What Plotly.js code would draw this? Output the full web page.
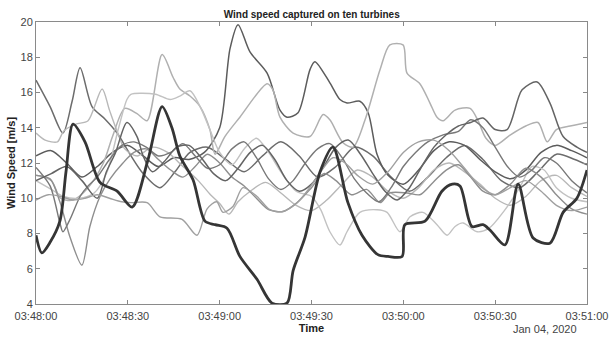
<!DOCTYPE html>
<html>
<head>
<meta charset="utf-8">
<script src="https://cdn.plot.ly/plotly-3.0.1.min.js"></script>
<style>html,body{margin:0;padding:0;background:#fff;}#chart{width:610px;height:338px;}</style>
</head>
<body>
<div id="chart"></div>
<script>
// Seconds after 2020-01-04 03:48:00 and wind speed values [m/s]
const t1 = [0,4.6,8.8,11.8,14.4,18.3,22.5,26.5,30.7,35,40.5,45.4,50.3,56,62,68,74,80,86,92,98,104,110,116,122,128,134,140,146,152,158,164,170,176,180];
const v1 = [16.7,15.2,13.7,15.5,17.4,15.2,14.5,13.7,12.5,11.4,10.6,11.5,12.6,12.9,12.2,11.5,12.4,13.2,12.4,11.2,11.8,12.9,12.4,11.2,10.4,11.2,12.3,13.0,12.2,11.0,10.6,11.5,12.5,12.2,11.9];

const t2 = [0,5,10,15,20,25,30,35,40,45,50,55,60,63.4,66,69.9,75.5,79.7,82,85.6,89.5,91.1,96,99.3,101.6,105.8,108.5,111.4,115,120,125,130,135,140,145,150,155,160,165,170,175,180];
const v2 = [12.4,12.7,12.0,11.2,11.8,12.6,13.0,12.4,11.8,12.3,12.2,12.6,14.0,18.5,19.85,18.3,17.1,15.0,14.6,14.85,17.3,17.75,16.55,15.6,15.4,15.5,14.85,12.5,11.3,10.8,11.6,12.7,13.2,13.0,12.2,11.5,11.1,11.6,12.6,13.0,12.7,12.3];

const t3 = [0,3,7,9,13,17,21.6,24,26.5,29,33,38,43,48,53,57,60,63,66,70,75,80,85,90,95,100,105,110,115,120,125,130,135,140,145,150,155,160,165,170,175,180];
const v3 = [13.7,13.3,13.2,13.8,14.2,14.4,16.2,15.0,13.8,12.8,12.4,12.9,12.6,11.8,11.0,10.2,9.7,9.1,9.8,10.4,10.9,10.3,9.6,9.3,9.9,10.8,11.6,11.2,10.4,10.0,10.6,11.6,12.0,11.5,10.8,10.0,9.6,10.1,11.0,11.3,10.6,10.1];

const t4 = [0,5,8,12,17,22,25,29,33,36.3,41.2,44.8,47,50.3,53.6,56.8,58.5,61.7,66.6,75.5,77.4,79.7,84,89.5,93.8,96,100.3,103.6,107.5,112.4,115.6,119.9,121.2,125.4,128.7,131,133,136.9,141.8,144.4,147,150,155,160,164,167,170,174.5,180];
const v4 = [11.3,11.0,10.0,9.9,10.6,12.0,13.5,15.1,14.8,14.4,18.15,16.85,16.2,15.8,15.2,13.9,12.5,13.5,14.6,16.5,16.15,14.6,13.7,13.5,14.75,14.45,13.15,12.9,14.45,17.3,18.7,18.7,17.1,16.5,15.4,14.6,14.4,15.0,15.1,14.4,13.4,13.0,13.6,14.1,14.3,13.2,13.9,14.1,14.3];

const t5 = [0,5,9,14,19,23,27,29.7,31,39,43.8,47,50.3,53.6,56.8,60,64,68,72,76,80,85,90,93,96,99.3,101.6,105.8,111.4,114.7,118.9,122.2,126.4,131,134.3,136.9,139.5,144.1,148,153,158,162,166,170,175,180];
const v5 = [11.0,10.5,10.1,10.0,10.3,11.4,14.0,15.6,15.9,15.9,15.6,15.8,16.1,15.2,13.9,12.6,11.9,12.8,13.4,12.6,11.5,10.4,10.1,9.35,8.1,7.35,8.1,9.2,9.35,9.2,8.1,8.95,9.2,8.5,7.9,8.4,8.6,8.1,8.3,9.3,10.6,11.8,11.6,10.6,10.0,9.8];

const t6 = [0,4.6,7.8,11.1,15,17.6,20.9,24.2,28.4,32,36,40,44,48,52,56,60,64,68,72,76,80.7,85.3,90,94,98,103,108,112.4,115.6,121.2,125.4,129.7,134,138,142,146,150,155,160,165,170,175,180];
const v6 = [11.3,11.1,9.8,7.8,6.2,8.4,10.1,11.1,12.0,12.6,12.8,12.2,11.6,11.2,11.8,12.5,12.0,11.2,10.7,10.0,9.35,9.25,9.75,10.6,11.4,11.0,10.2,10.5,9.75,10.3,10.3,10.2,10.9,11.6,11.9,11.2,10.4,10.2,10.8,11.7,11.2,10.2,9.4,9.1];

const t7 = [0,4.6,7.8,8.8,11.1,14.4,17,20,24,28,32,36,40,44,48,52,56,60,64,68,72,76,80,84,88,92,96,100,104,108,112,116,120,124,128,133,138,142,146,150,154,158,162,166,170,175,180];
const v7 = [11.75,10.7,8.6,8.1,8.8,10.1,10.7,11.2,12.2,13.0,13.2,12.9,12.4,12.6,13.1,12.4,11.7,11.9,12.8,13.2,12.3,11.1,10.5,11.0,12.0,12.8,13.1,12.3,11.1,10.3,9.8,10.6,11.8,12.6,13.2,13.6,13.8,14.45,14.0,12.9,11.8,11.2,11.6,12.3,12.0,11.0,10.3];

const t8 = [0,5,10,15,20,23,26,29.7,33,35,38,42,46,50,54,58,62,66,70,74,78,82,86,90,94,98,102,106,110,114,118,122,126,130,134,138,142,146,150,153.9,158.8,163.7,167.9,172.2,176.7,180];
const v8 = [11.0,11.4,11.8,11.0,10.0,11.5,12.6,14.3,13.5,12.4,11.5,12.1,12.9,13.0,12.3,11.4,11.0,11.7,12.6,13.0,12.2,11.0,10.4,10.8,11.8,12.9,13.3,12.5,11.4,10.4,9.9,10.6,11.8,12.9,13.6,14.1,14.3,14.55,13.9,13.9,16.15,16.6,15.4,13.5,12.9,12.6];

const t9 = [0,4,8,12,16,20,24,28,31,36.3,40.5,47.7,52.6,55.9,59,61.1,64.4,67.6,72.2,76.4,80.7,85.3,89,93,97,101,105,110,115,120,125,130,135,140,145,150,155,160,165,170,175,180];
const v9 = [9.9,10.2,10.1,9.9,10.0,10.2,10.0,9.8,9.75,9.75,8.95,8.8,7.9,9.4,9.8,9.2,9.55,10.6,10.1,9.35,9.25,9.75,10.5,11.5,12.3,12.0,11.3,10.8,11.5,12.6,13.2,13.3,12.7,11.7,10.7,10.2,10.6,11.0,10.4,9.6,9.3,9.5];

// highlighted turbine (thick dark line)
const t10 = [0,1.9,4.6,7.8,9.8,12.1,16,20.9,26.5,31.4,36.6,41.2,44.4,47,51.3,55.2,58.5,62.4,66.6,72.2,77.1,82,84,87.9,92.8,97,101.9,106.5,111.7,115,119.6,120.5,127.1,132.6,136,138.5,142.4,146,148.3,153.2,157.5,162.4,167.9,172.2,176.7,180];
const v10 = [7.9,6.9,7.5,8.7,11.5,14.2,13.2,10.9,10.4,9.5,12.2,15.2,14.0,12.4,11.05,8.7,8.5,8.3,6.7,5.4,4.05,4.05,5.9,7.8,11.5,12.9,9.75,7.9,6.8,6.7,6.7,8.5,8.7,10.4,10.8,10.7,8.4,8.5,8.2,7.35,10.8,7.75,7.45,9.2,10.0,11.6];

const yTicks = [4,6,8,10,12,14,16,18,20];
const dateLabel = 'Jan 04, 2020';

const baseMs = Date.UTC(2020, 0, 4, 3, 48, 0);
function toDate(s) {
  const d = new Date(baseMs + Math.round(s * 1000));
  const p = (n, w) => String(n).padStart(w || 2, '0');
  return d.getUTCFullYear() + '-' + p(d.getUTCMonth() + 1) + '-' + p(d.getUTCDate()) + ' ' +
    p(d.getUTCHours()) + ':' + p(d.getUTCMinutes()) + ':' + p(d.getUTCSeconds()) + '.' + p(d.getUTCMilliseconds(), 3);
}

const series = [
  [t1, v1, '#6c6c6c', 1.5],
  [t2, v2, '#5c5c5c', 1.5],
  [t3, v3, '#b8b8b8', 1.4],
  [t4, v4, '#b0b0b0', 1.5],
  [t5, v5, '#c2c2c2', 1.4],
  [t6, v6, '#8e8e8e', 1.4],
  [t7, v7, '#787878', 1.4],
  [t8, v8, '#646464', 1.5],
  [t9, v9, '#a0a0a0', 1.4],
  [t10, v10, '#353535', 2.8]
];

const traces = series.map((s, i) => ({
  type: 'scatter', mode: 'lines',
  x: s[0].map(toDate), y: s[1],
  name: 'Turbine ' + (i + 1),
  line: {color: s[2], width: s[3], shape: 'spline', smoothing: 0.8},
  hoverinfo: 'skip'
}));

const axisFont = {family: 'Liberation Sans, Arial, sans-serif', size: 11, color: '#444'};

const layout = {
  width: 610, height: 338,
  margin: {l: 36, r: 23, t: 22, b: 34, pad: 0},
  paper_bgcolor: '#fff', plot_bgcolor: '#fff',
  showlegend: false,
  title: {
    text: '<b>Wind speed captured on ten turbines</b>',
    font: {family: 'Liberation Sans, Arial, sans-serif', size: 10, color: '#222'},
    x: 0.511, xanchor: 'center', y: 0.958, yanchor: 'middle'
  },
  xaxis: {
    type: 'date',
    range: [toDate(0), toDate(180)],
    tickformat: '%H:%M:%S',
    dtick: 30000,
    tick0: toDate(0),
    ticks: 'inside', ticklen: 4, tickcolor: '#888', tickwidth: 1,
    ticklabelstandoff: 2,
    showline: true, linecolor: '#8a8a8a', linewidth: 1, mirror: 'ticks',
    showgrid: false, zeroline: false,
    tickfont: axisFont,
    automargin: false,
    title: {text: '<b>Time</b>', font: {family: 'Liberation Sans, Arial, sans-serif', size: 11, color: '#222'}, standoff: 0}
  },
  yaxis: {
    range: [4, 20],
    tickvals: yTicks,
    ticks: 'inside', ticklen: 4, tickcolor: '#888', tickwidth: 1,
    showline: true, linecolor: '#8a8a8a', linewidth: 1, mirror: 'ticks',
    showgrid: false, zeroline: false,
    tickfont: axisFont,
    automargin: false,
    title: {text: '<b>Wind Speed [m/s]</b>', font: {family: 'Liberation Sans, Arial, sans-serif', size: 11, color: '#222'}, standoff: 2}
  },
  annotations: [{
    text: dateLabel, xref: 'paper', yref: 'paper', x: 1, y: 0, xanchor: 'right', yanchor: 'top',
    xshift: -8, yshift: -17, showarrow: false,
    font: {family: 'Liberation Sans, Arial, sans-serif', size: 11, color: '#444'}
  }]
};

Plotly.newPlot('chart', traces, layout, {displayModeBar: false, staticPlot: true});
</script>
</body>
</html>
